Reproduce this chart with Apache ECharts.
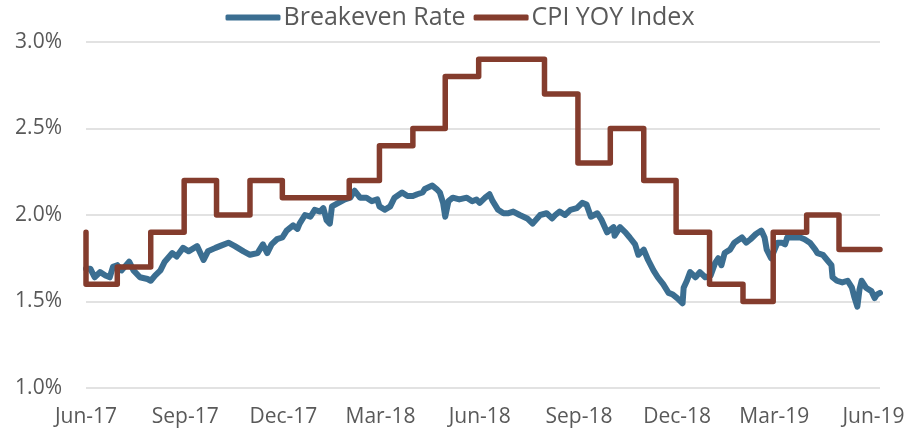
<!DOCTYPE html>
<html>
<head>
<meta charset="utf-8">
<script src="https://cdn.jsdelivr.net/npm/echarts@6/dist/echarts.min.js"></script>
<style>
  html, body { margin: 0; padding: 0; background: #fff; }
  #chart { width: 920px; height: 431px; }
</style>
</head>
<body>
<div id="chart"></div>
<script>
  // breakeven rate (date, %)
  var breakevenDates = [
    '2017-06-01', '2017-06-05', '2017-06-09', '2017-06-14', '2017-06-19', '2017-06-23', '2017-06-26', '2017-06-30',
    '2017-07-04', '2017-07-11', '2017-07-15', '2017-07-21', '2017-07-28', '2017-07-31', '2017-08-04', '2017-08-09',
    '2017-08-13', '2017-08-20', '2017-08-24', '2017-08-30', '2017-09-04', '2017-09-12', '2017-09-18', '2017-09-22',
    '2017-09-29', '2017-10-03', '2017-10-11', '2017-10-17', '2017-10-25', '2017-10-31', '2017-11-07', '2017-11-12',
    '2017-11-16', '2017-11-20', '2017-11-25', '2017-11-30', '2017-12-04', '2017-12-10', '2017-12-14', '2017-12-16',
    '2017-12-21', '2017-12-26', '2017-12-30', '2018-01-04', '2018-01-07', '2018-01-10', '2018-01-13', '2018-01-15',
    '2018-01-21', '2018-01-27', '2018-02-01', '2018-02-05', '2018-02-10', '2018-02-16', '2018-02-21', '2018-02-26',
    '2018-02-28', '2018-03-05', '2018-03-10', '2018-03-14', '2018-03-21', '2018-03-26', '2018-03-31', '2018-04-04',
    '2018-04-09', '2018-04-11', '2018-04-18', '2018-04-22', '2018-04-25', '2018-04-28', '2018-04-30', '2018-05-03',
    '2018-05-07', '2018-05-13', '2018-05-20', '2018-05-25', '2018-05-29', '2018-06-01', '2018-06-06', '2018-06-10',
    '2018-06-13', '2018-06-18', '2018-06-23', '2018-06-27', '2018-07-02', '2018-07-08', '2018-07-15', '2018-07-20',
    '2018-07-27', '2018-08-02', '2018-08-07', '2018-08-10', '2018-08-14', '2018-08-19', '2018-08-24', '2018-08-30',
    '2018-09-04', '2018-09-08', '2018-09-12', '2018-09-18', '2018-09-22', '2018-09-27', '2018-10-03', '2018-10-04',
    '2018-10-09', '2018-10-14', '2018-10-18', '2018-10-23', '2018-10-26', '2018-10-31', '2018-11-04', '2018-11-09',
    '2018-11-13', '2018-11-18', '2018-11-23', '2018-11-27', '2018-12-01', '2018-12-06', '2018-12-07', '2018-12-10',
    '2018-12-13', '2018-12-18', '2018-12-22', '2018-12-27', '2019-01-01', '2019-01-05', '2019-01-08', '2019-01-11',
    '2019-01-14', '2019-01-19', '2019-01-23', '2019-01-30', '2019-02-03', '2019-02-07', '2019-02-12', '2019-02-17',
    '2019-02-20', '2019-02-22', '2019-02-26', '2019-03-04', '2019-03-08', '2019-03-11', '2019-03-13', '2019-03-18',
    '2019-03-25', '2019-03-29', '2019-04-03', '2019-04-08', '2019-04-10', '2019-04-15', '2019-04-19', '2019-04-23',
    '2019-04-24', '2019-04-28', '2019-05-03', '2019-05-08', '2019-05-12', '2019-05-14', '2019-05-17', '2019-05-19',
    '2019-05-21', '2019-05-25', '2019-05-30', '2019-06-02', '2019-06-04', '2019-06-07'
  ];
  var breakevenValues = [
    1.69, 1.69, 1.64, 1.67, 1.65, 1.64, 1.70, 1.71,
    1.68, 1.73, 1.68, 1.64, 1.63, 1.62, 1.65, 1.68,
    1.73, 1.78, 1.76, 1.81, 1.79, 1.82, 1.74, 1.79,
    1.81, 1.82, 1.84, 1.82, 1.79, 1.77, 1.78, 1.83,
    1.78, 1.83, 1.86, 1.87, 1.91, 1.94, 1.92, 1.95,
    2.00, 1.99, 2.03, 2.02, 2.04, 1.97, 1.95, 2.05,
    2.07, 2.09, 2.10, 2.14, 2.10, 2.10, 2.08, 2.09,
    2.05, 2.03, 2.05, 2.10, 2.13, 2.11, 2.11, 2.12,
    2.13, 2.15, 2.17, 2.15, 2.13, 2.07, 1.99, 2.08,
    2.10, 2.09, 2.10, 2.08, 2.09, 2.07, 2.10, 2.12,
    2.08, 2.03, 2.01, 2.01, 2.02, 2.00, 1.98, 1.95,
    2.00, 2.01, 1.98, 2.00, 2.02, 2.00, 2.03, 2.04,
    2.07, 2.06, 1.99, 2.01, 1.97, 1.90, 1.93, 1.88,
    1.93, 1.90, 1.87, 1.83, 1.77, 1.80, 1.74, 1.68,
    1.64, 1.60, 1.55, 1.54, 1.52, 1.49, 1.58, 1.62,
    1.67, 1.64, 1.67, 1.64, 1.65, 1.72, 1.75, 1.71,
    1.78, 1.80, 1.84, 1.87, 1.84, 1.86, 1.89, 1.91,
    1.87, 1.80, 1.75, 1.84, 1.84, 1.83, 1.87, 1.87,
    1.87, 1.86, 1.84, 1.80, 1.78, 1.77, 1.74, 1.71,
    1.64, 1.62, 1.61, 1.62, 1.58, 1.53, 1.47, 1.57,
    1.62, 1.58, 1.56, 1.52, 1.54, 1.55
  ];

  // CPI YoY, monthly prints stamped at month end (step line)
  var cpiDates = [
    '2017-06-01', '2017-06-30', '2017-07-31', '2017-08-31', '2017-09-30', '2017-10-31', '2017-11-30', '2017-12-31',
    '2018-01-31', '2018-02-28', '2018-03-31', '2018-04-30', '2018-05-31', '2018-06-30', '2018-07-31', '2018-08-31',
    '2018-09-30', '2018-10-31', '2018-11-30', '2018-12-31', '2019-01-31', '2019-02-28', '2019-03-31', '2019-04-30',
    '2019-05-31', '2019-06-07'
  ];
  var cpiValues = [
    1.9, 1.6, 1.7, 1.9, 2.2, 2.0, 2.2, 2.1,
    2.1, 2.2, 2.4, 2.5, 2.8, 2.9, 2.9, 2.7,
    2.3, 2.5, 2.2, 1.9, 1.6, 1.5, 1.9, 2.0,
    1.8, 1.8
  ];

  var tickDates = ['2017-06-01', '2017-09-01', '2017-12-01', '2018-03-01', '2018-06-01',
    '2018-09-01', '2018-12-01', '2019-03-01', '2019-06-01'];
  var monthNames = ['Jan', 'Feb', 'Mar', 'Apr', 'May', 'Jun', 'Jul', 'Aug', 'Sep', 'Oct', 'Nov', 'Dec'];

  function toTime(s) {
    var p = s.split('-');
    return new Date(+p[0], +p[1] - 1, +p[2]).getTime();
  }
  function pairs(dates, vals) {
    return dates.map(function (d, i) { return [toTime(d), vals[i]]; });
  }

  var font = '"Open Sans", "DejaVu Sans", sans-serif';
  var textColor = '#595959';

  var myChart = echarts.init(document.getElementById('chart'));
  var option = {
    animation: false,
    backgroundColor: '#fff',
    textStyle: { fontFamily: font },
    legend: {
      top: 0,
      left: 'center',
      icon: 'roundRect',
      itemWidth: 55,
      itemHeight: 6,
      itemGap: 8,
      textStyle: { fontSize: 25, color: textColor, fontFamily: font, padding: [0, 0, 0, -2] },
      data: ['Breakeven Rate', 'CPI YOY Index']
    },
    grid: { left: 86, right: 40, top: 42, bottom: 43 },
    // x runs on plain timestamps so the quarter labels can sit on exact dates
    xAxis: {
      type: 'value',
      min: toTime('2017-06-01'),
      max: toTime('2019-06-07'),
      axisLine: { show: false },
      axisTick: { show: false },
      splitLine: { show: false },
      axisLabel: {
        customValues: tickDates.map(toTime),
        margin: 19,
        fontSize: 21,
        color: textColor,
        fontFamily: font,
        hideOverlap: false,
        showMinLabel: true,
        showMaxLabel: true,
        formatter: function (v) {
          var d = new Date(v);
          return monthNames[d.getMonth()] + '-' + String(d.getFullYear()).slice(2);
        }
      }
    },
    yAxis: {
      type: 'value',
      min: 1.0,
      max: 3.0,
      interval: 0.5,
      axisLine: { show: false },
      axisTick: { show: false },
      splitLine: { lineStyle: { color: '#d9d9d9', width: 1.5 } },
      axisLabel: {
        margin: 24,
        fontSize: 21,
        color: textColor,
        fontFamily: font,
        formatter: function (v) { return v.toFixed(1) + '%'; }
      }
    },
    series: [
      {
        name: 'Breakeven Rate',
        type: 'line',
        showSymbol: false,
        symbol: 'none',
        color: '#3b6e91',
        lineStyle: { width: 6, color: '#3b6e91', cap: 'round', join: 'round' },
        data: pairs(breakevenDates, breakevenValues)
      },
      {
        name: 'CPI YOY Index',
        type: 'line',
        step: 'start',
        showSymbol: false,
        symbol: 'none',
        color: '#843c2d',
        lineStyle: { width: 5.5, color: '#843c2d', cap: 'round', join: 'round' },
        data: pairs(cpiDates, cpiValues)
      }
    ]
  };
  myChart.setOption(option);
</script>
</body>
</html>
